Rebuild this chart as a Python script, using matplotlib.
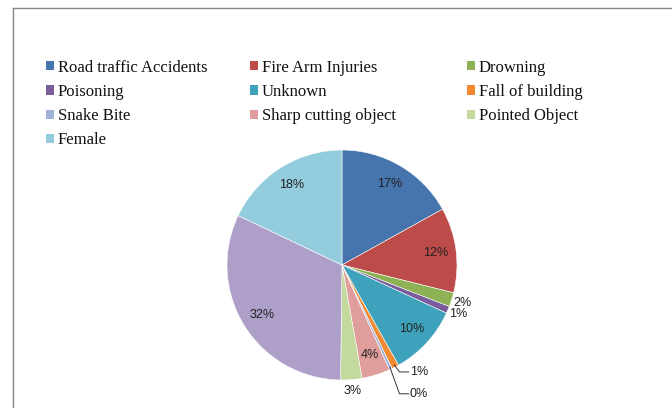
import matplotlib.pyplot as plt
import numpy as np
from matplotlib.patches import Patch
from matplotlib.lines import Line2D

# ================= data ====================
causes = ["Road traffic Accidents", "Fire Arm Injuries", "Drowning", "Poisoning",
          "Unknown", "Fall of building", "Snake Bite", "Sharp cutting object",
          "Pointed Object", "", "Female"]
shares = [17, 12, 2, 1, 10, 1, 0.4, 4, 3, 32, 18]
colors = ["#4674AC", "#BC4B49", "#8DB255", "#7A5C9C", "#3FA2BC", "#F0892F",
          "#9EB2DA", "#DF9E9C", "#C4D99E", "#AE9FC8", "#93CCDC"]

# label placement per slice: 'in', 'out', or 'lead' (leader line)
label_mode = ["in", "in", "out", "out", "in", "lead", "lead", "in", "out", "in", "in"]

fig = plt.figure(figsize=(6.72, 4.08), dpi=100)

# ================= pie ====================
cx, cy, r = 342, 265, 115
ax = fig.add_axes([(cx - r) / 672, (408 - cy - r) / 408, 2 * r / 672, 2 * r / 408])
wedges, _ = ax.pie(shares, colors=colors, startangle=90, counterclock=False,
                   radius=1.0, wedgeprops=dict(edgecolor='white', linewidth=0.4))
ax.set_xlim(-1, 1)
ax.set_ylim(-1, 1)
ax.set_aspect('auto')
ax.axis('off')

pct_font = dict(fontsize=9, family='Liberation Sans', color='#222222')
total = sum(shares)
lead_count = 0
for w, v, mode in zip(wedges, shares, label_mode):
    txt = "%d%%" % round(100 * v / total)
    ang = np.deg2rad((w.theta1 + w.theta2) / 2)
    ca, sa = np.cos(ang), np.sin(ang)
    if mode == "in":
        ax.text(0.82 * ca, 0.82 * sa, txt, ha='center', va='center', **pct_font)
    elif mode == "out":
        ax.text(1.1 * ca, 1.1 * sa, txt, ha='center', va='center', **pct_font)
    else:
        # leader line from wedge edge down-right to the label
        y_lab = -0.93 - 0.19 * lead_count
        x0, y0 = 0.98 * ca, 0.98 * sa
        ax.plot([x0, 0.5, 0.58], [y0, y_lab, y_lab], color='#333333', lw=0.7,
                clip_on=False)
        ax.text(0.59, y_lab, txt, ha='left', va='center', **pct_font)
        lead_count += 1

# ================= legend ====================
handles = [Patch(facecolor=c, edgecolor='none') for c in colors]
cols = [[0, 3, 6, 10], [1, 4, 7], [2, 5, 8]]
col_x = [46, 250, 467]
for idx, x in zip(cols, col_x):
    leg = fig.legend([handles[i] for i in idx], [causes[i] for i in idx],
                     loc='upper left', bbox_to_anchor=(x / 672, 1 - 59.5 / 408),
                     frameon=False, prop=dict(family='Liberation Serif', size=12),
                     handlelength=0.5, handleheight=0.5, handletextpad=0.2,
                     labelspacing=0.5, borderpad=0, borderaxespad=0)
    for t in leg.get_texts():
        t.set_color('#111111')

# ================= frame ====================
fig.add_artist(Line2D([13 / 672, 1.0], [1 - 8 / 408, 1 - 8 / 408],
                      color='#888888', lw=1.0, transform=fig.transFigure))
fig.add_artist(Line2D([13 / 672, 13 / 672], [0.0, 1 - 8 / 408],
                      color='#888888', lw=1.0, transform=fig.transFigure))

plt.savefig("out.png", dpi=100)
